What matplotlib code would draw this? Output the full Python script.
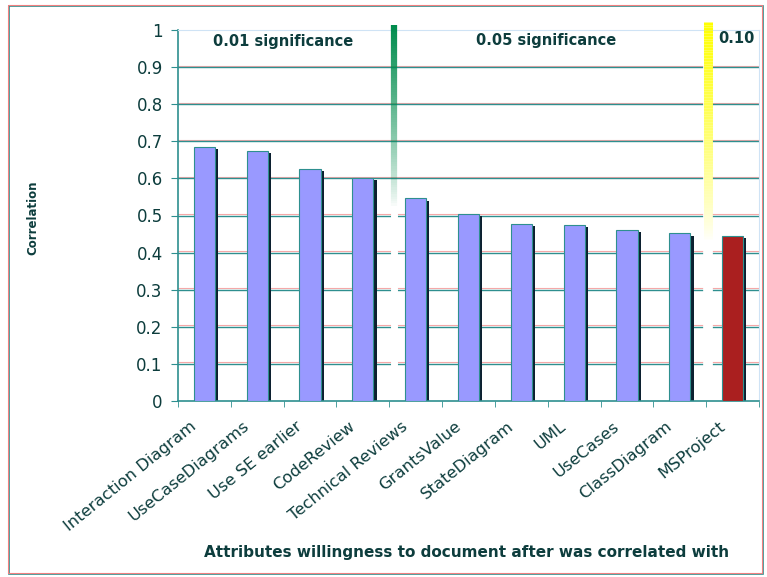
import numpy as np
import matplotlib
matplotlib.use("Agg")
import matplotlib.pyplot as plt
from matplotlib.patches import Rectangle
from matplotlib.collections import LineCollection
import matplotlib.transforms as mtransforms

plt.rcParams['font.family'] = ['DejaVu Sans']

categories = ["Interaction Diagram", "UseCaseDiagrams", "Use SE earlier", "CodeReview",
              "Technical Reviews", "GrantsValue", "StateDiagram", "UML", "UseCases",
              "ClassDiagram", "MSProject"]
values = [0.685, 0.675, 0.625, 0.602, 0.546, 0.505, 0.478, 0.475, 0.461, 0.452, 0.445]
bar_colors = ["#9999ff"] * 10 + ["#aa1f1f"]
y_ticks = [0, 0.1, 0.2, 0.3, 0.4, 0.5, 0.6, 0.7, 0.8, 0.9, 1]
y_tick_labels = ["0", "0.1", "0.2", "0.3", "0.4", "0.5", "0.6", "0.7", "0.8", "0.9", "1"]
regions = ["0.01 significance", "0.05 significance", "0.10"]

text_col = "#0d3d3d"
teal = "#2e8f8f"

fig = plt.figure(figsize=(7.67, 5.77), dpi=100)
fig.patches.append(Rectangle((9 / 767, 3 / 577), 754 / 767, 568 / 577, transform=fig.transFigure,
                             fill=False, edgecolor=teal, linewidth=1.2))
fig.patches.append(Rectangle((8 / 767, 4 / 577), 754 / 767, 568 / 577, transform=fig.transFigure,
                             fill=False, edgecolor="#f08080", linewidth=0.8))

ax = fig.add_axes([178 / 767, 176 / 577, 581 / 767, 371 / 577])
x = np.arange(len(categories))

# gridlines: teal with a faint red fringe just above
red_up = mtransforms.offset_copy(ax.get_yaxis_transform(), fig=fig, x=0, y=1.5, units='dots')
for yv in y_ticks[1:-1]:
    ax.plot([0, 1], [yv, yv], color="#f5a8a8", lw=0.8, zorder=1, transform=red_up)
    ax.axhline(yv, color=teal, lw=1.0, zorder=1.1)

# white strips where the separator lines cut through the grid
ax.plot([3.596, 3.596], [0.003, 0.52], color="white", lw=5, zorder=1.5, solid_capstyle="butt")
ax.plot([9.53, 9.53], [0.003, 1], color="white", lw=7, zorder=1.5, solid_capstyle="butt")

# shadow behind bars
shadow_dx = 0.06
ax.bar(x + shadow_dx, np.array(values) - 0.006, width=0.4, bottom=0, color="#0c2030", zorder=2)
ax.bar(x, values, width=0.4, color=bar_colors, edgecolor=teal, linewidth=0.8, zorder=3)

# gradient separators
def gradient_line(xpos, y_top, y_bot, rgb, lw):
    ys = np.linspace(y_top, y_bot, 80)
    segs = [[(xpos, ys[i]), (xpos, ys[i + 1])] for i in range(len(ys) - 1)]
    alphas = np.linspace(1, 0, len(segs)) ** 0.8
    cols = [(rgb[0], rgb[1], rgb[2], a) for a in alphas]
    lc = LineCollection(segs, colors=cols, linewidths=lw, zorder=4, clip_on=False)
    ax.add_collection(lc)

gradient_line(3.596, 1.013, 0.52, (0.0, 0.55, 0.3), 4.5)
gradient_line(9.53, 1.022, 0.43, (1.0, 1.0, 0.0), 6.5)

ax.text(1.49, 0.968, regions[0], ha="center", va="center", fontsize=10.5, fontweight="bold", color=text_col)
ax.text(6.47, 0.973, regions[1], ha="center", va="center", fontsize=10.5, fontweight="bold", color=text_col)
ax.text(10.08, 0.976, regions[2], ha="center", va="center", fontsize=10.5, fontweight="bold", color=text_col)

ax.set_xlim(-0.5, 10.5)
ax.set_ylim(0, 1)
ax.set_yticks(y_ticks)
ax.set_yticklabels(y_tick_labels, fontsize=12, color=text_col)
ax.set_xticks(x)
ax.set_xticklabels(categories, rotation=39, ha="right", va="bottom", rotation_mode="anchor",
                   fontsize=11.8, color=text_col)
ax.tick_params(axis="x", length=0, pad=21)
shift = mtransforms.ScaledTranslation(-5 / 100, 0, fig.dpi_scale_trans)
for lab in ax.xaxis.get_majorticklabels():
    lab.set_transform(lab.get_transform() + shift)
ax.set_xticks(np.arange(-0.5, 11, 1), minor=True)
ax.tick_params(axis="x", which="minor", length=4, color=teal, direction="out")
ax.tick_params(axis="y", length=5, color=teal, direction="out", pad=6)

for s in ["left", "bottom"]:
    ax.spines[s].set_color(teal)
    ax.spines[s].set_linewidth(1.2)
for s in ["top", "right"]:
    ax.spines[s].set_color("#cfe3f5")
    ax.spines[s].set_linewidth(0.8)

fig.text(33 / 767, 1 - 218 / 577, "Correlation", rotation=90, ha="center", va="center",
         fontsize=8.5, fontweight="bold", color=text_col)
fig.text(467 / 767, 1 - 553 / 577, "Attributes willingness to document after was correlated with",
         ha="center", va="center", fontsize=11, fontweight="bold", color=text_col)

fig.savefig("out.png", dpi=100)
